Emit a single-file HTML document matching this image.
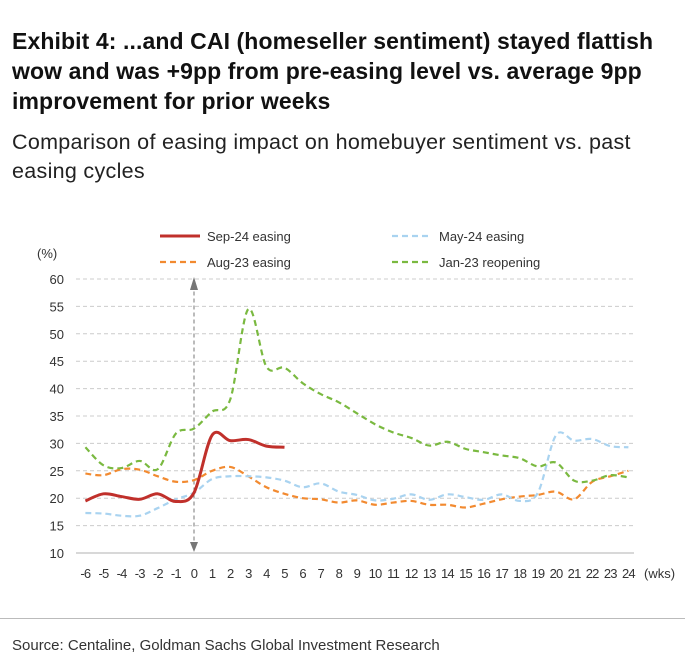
<!DOCTYPE html>
<html><head><meta charset="utf-8"><style>
body{margin:0;background:#fff;font-family:"Liberation Sans",sans-serif;}
#wrap{position:relative;width:685px;height:672px;overflow:hidden;}
.t{position:absolute;left:12px;font-weight:bold;font-size:23px;color:#111;line-height:30px;white-space:nowrap;letter-spacing:0.1px}
.s{position:absolute;left:12px;font-size:21.5px;color:#222;line-height:29px;white-space:nowrap;letter-spacing:0.3px}
</style></head><body>
<div id="wrap">
<div class="t" style="top:26px">Exhibit 4: ...and CAI (homeseller sentiment) stayed flattish<br>wow and was +9pp from pre-easing level vs. average 9pp<br>improvement for prior weeks</div>
<div class="s" style="top:128px">Comparison of easing impact on homebuyer sentiment vs. past<br>easing cycles</div>
<svg id="chart" width="685" height="672" style="position:absolute;left:0;top:0"></svg>
<div style="position:absolute;left:0;top:618px;width:685px;height:1px;background:#bbb"></div>
<div style="position:absolute;left:12px;top:637px;font-size:15px;color:#333">Source: Centaline, Goldman Sachs Global Investment Research</div>
</div>
<script>
const weeks=[-6,-5,-4,-3,-2,-1,0,1,2,3,4,5,6,7,8,9,10,11,12,13,14,15,16,17,18,19,20,21,22,23,24];
const yTicks=[10,15,20,25,30,35,40,45,50,55,60];
const sep24=[19.5,20.8,20.3,19.8,20.8,19.4,21,31.5,30.5,30.7,29.5,29.3];
const aug23=[24.5,24.2,25.3,25.2,24,23,23.3,25,25.7,24,22,20.8,20,19.8,19.2,19.6,18.8,19.2,19.5,18.8,18.8,18.3,19,19.8,20.3,20.6,21.2,19.8,23,24,25];
const may24=[17.3,17.2,16.8,16.8,18.2,19.8,21,23.5,24,24,23.8,23.2,22,22.7,21.2,20.6,19.6,19.9,20.7,19.7,20.7,20.2,19.7,20.7,19.5,21,31.5,30.5,30.8,29.5,29.3];
const jan23=[29.3,26,25.5,26.8,25.3,31.8,32.7,35.8,38,54.5,44,43.8,41,39,37.5,35.5,33.5,32,31,29.6,30.3,29,28.4,27.8,27.3,25.8,26.5,23.2,23.2,24.2,23.8];
const NS="http://www.w3.org/2000/svg";
const svg=document.getElementById('chart');
const X=w=>194+w*18.1, Y=v=>553-(v-10)*5.48;
function el(t,a,txt){const e=document.createElementNS(NS,t);for(const k in a)e.setAttribute(k,a[k]);if(txt!=null)e.textContent=txt;svg.appendChild(e);return e;}
yTicks.forEach(v=>{
 if(v>10){const g=el('line',{x1:76,x2:634,y1:Y(v),y2:Y(v),stroke:'#ccc','stroke-dasharray':'4,3'});
 
 }
 const t=el('text',{x:64,y:Y(v)+5,'text-anchor':'end','font-size':13,fill:'#333'},v);
 
 
});
const ax=el('line',{x1:76,x2:634,y1:553,y2:553,stroke:'#ccc','stroke-width':1.5});


weeks.forEach(w=>{const t=el('text',{x:X(w),y:578,'text-anchor':'middle','font-size':13,fill:'#333','letter-spacing':'-0.8'},w);
 
 });
let u=el('text',{x:644,y:578,'font-size':13,fill:'#333'},'(wks)');


u=el('text',{x:37,y:258,'font-size':13,fill:'#333'},'(%)');


const m=el('line',{x1:X(0),x2:X(0),y1:Y(59),y2:Y(11),stroke:'#777','stroke-dasharray':'4,3'});


let a1=el('path',{d:`M${X(0)-4} ${Y(58)} L${X(0)} ${Y(60)-2} L${X(0)+4} ${Y(58)}Z`,fill:'#777'});


a1=el('path',{d:`M${X(0)-4} ${Y(12)} L${X(0)} ${Y(10)-1} L${X(0)+4} ${Y(12)}Z`,fill:'#777'});


function smooth(vals){const p=vals.map((v,i)=>[X(weeks[i]),Y(v)]);let d=`M${p[0][0]} ${p[0][1]}`;
 for(let i=0;i<p.length-1;i++){const p0=p[i-1]||p[i],p1=p[i],p2=p[i+1],p3=p[i+2]||p2;
 d+=` C${p1[0]+(p2[0]-p0[0])/6} ${p1[1]+(p2[1]-p0[1])/6} ${p2[0]-(p3[0]-p1[0])/6} ${p2[1]-(p3[1]-p1[1])/6} ${p2[0]} ${p2[1]}`;}return d;}
const series=[[aug23,'#f28a30','aug23-line',true],[may24,'#a9d3f0','may24-line',true],[jan23,'#7ab940','jan23-line',true],[sep24,'#c0302b','sep24-line',false]];
series.forEach(([vals,c,n,dash])=>{const a={d:smooth(vals),fill:'none',stroke:c,'stroke-width':dash?2.2:3};if(dash)a['stroke-dasharray']='6,4';
 const p=el('path',a);
 
 });
const leg=[[160,236,'#c0302b',false,'Sep-24 easing'],[392,236,'#a9d3f0',true,'May-24 easing'],[160,262,'#f28a30',true,'Aug-23 easing'],[392,262,'#7ab940',true,'Jan-23 reopening']];
leg.forEach(([x,y,c,d,txt])=>{const a={x1:x,x2:x+40,y1:y,y2:y,stroke:c,'stroke-width':d?2.2:3};if(d)a['stroke-dasharray']='6,4';
 const l=el('line',a);
 
 
 const t=el('text',{x:x+47,y:y+5,'font-size':13,fill:'#333'},txt);
 
 });
</script>
</body></html>
